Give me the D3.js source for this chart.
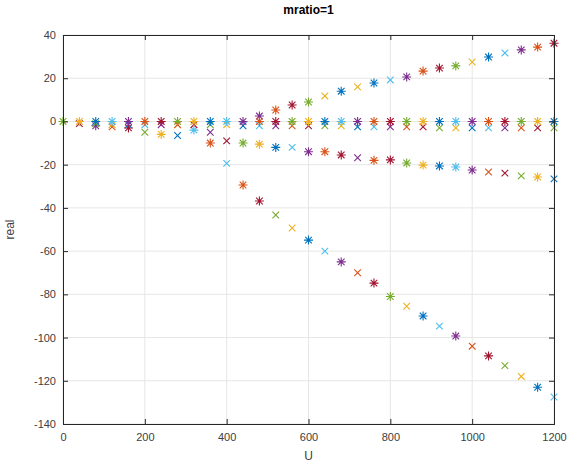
<!DOCTYPE html>
<html><head><meta charset="utf-8">
<script src="https://cdn.jsdelivr.net/npm/d3@7"></script>
<style>body{margin:0;background:#fff;}svg{display:block;font-family:"Liberation Sans",Arial,sans-serif;}</style>
</head><body><svg id="c" width="574" height="466"></svg>
<script>
// U values (x)
const U = [0,40,80,120,160,200,240,280,320,360,400,440,480,520,560,600,640,680,720,760,800,840,880,920,960,1000,1040,1080,1120,1160,1200];
const xTicks = [0,200,400,600,800,1000,1200];
const yTicks = [-140,-120,-100,-80,-60,-40,-20,0,20,40];
const _ = null;
// real parts, aligned with U
const zeroTop   = [0,0,0,0,0,0,0,0,0,0,0,0,0,0,0,0,0,0,0,0,0,0,0,0,0,0,0,0,0,0,0];
const zeroLow   = [_,-1,-1,-1.5,-1.5,-1.5,-1.5,-1.5,-1.5,-1.5,-1.5,-2,-2,-2,-2,-2,-2,-2,-2.5,-2.5,-2.5,-2.5,-2.5,-3,-3,-3,-3,-3,-3,-3,-3];
const row2      = [_,_,-2,-2.5,-3,-5,-6,-6.5,-4,-5,_,_,_,_,_,_,_,_,_,_,_,_,_,_,_,_,_,_,_,_,_];
const middleA   = [_,_,_,_,_,_,_,_,_,-10,-9,-10,-10.5,-12,-12,-14,-14,-15.5,_,_,_,_,_,_,_,_,_,_,_,_,_];
const middleB   = [_,_,_,_,_,_,_,_,_,_,_,_,_,_,_,_,_,_,-16.8,-18,-17.8,-19.2,-20.2,-20.6,-21.1,-22.5,-23.4,-23.9,-25.2,-25.7,-26.6];
const lowerA    = [_,_,_,_,_,_,_,_,_,_,-19.4,_,_,_,_,_,_,_,_,_,_,_,_,_,_,_,_,_,_,_,_];
const lowerB    = [_,_,_,_,_,_,_,_,_,_,_,-29.4,-36.8,-43.3,-49.3,-54.9,-60,-65,-70,-74.8,-81,-85.5,-90,-94.7,-99.3,-104,-108.5,-113,-118,-123,-127.5];
const upperA    = [_,_,_,_,_,_,_,_,_,_,_,_,2.5,5.3,7.6,9,11.8,14,_,_,_,_,_,_,_,_,_,_,_,_,_];
const upperB    = [_,_,_,_,_,_,_,_,_,_,_,_,_,_,_,_,_,_,16,17.8,19.2,20.6,23.3,24.7,25.7,27.5,29.8,31.7,33.1,34.4,36.2];

// style: plotting slot (MATLAB colour order, 12 objects per U step) and marker per drawn point
const style = {
  lowerB:  {slot: 2,  mk: "**xx*x*x**x*x*x*xx*x"},
  upperB:  {slot: 3,  mk: "x*x****x*x***"},
  middleB: {slot: 4,  mk: "x*******xxx*"},
  lowerA:  {slot: 4,  mk: "x"},
  middleA: {slot: 5,  mk: "*x***x***"},
  upperA:  {slot: 6,  mk: "****x*"},
  row2:    {slot: 7,  mk: "*x*x*x*x"},
  zeroLow: {slot: 8,  mk: "x"},
  zeroTop: {slot: 11, mk: "*"}
};
const seriesData = {lowerB, upperB, middleB, lowerA, middleA, upperA, row2, zeroLow, zeroTop};
const colors = ["#0072BD","#D95319","#EDB120","#7E2F8E","#77AC30","#4DBEEE","#A2142F"];

const svg = d3.select("#c");
const m = {l:63, r:20, t:35, b:42};
const W = 574, H = 466;
const x = d3.scaleLinear().domain([0,1200]).range([m.l, W-m.r]);
const y = d3.scaleLinear().domain([-140,40]).range([H-m.b, m.t]);
const ax = "#262626";

// grid
const g = svg.append("g");
g.selectAll(".gx").data(xTicks).join("line").attr("x1",d=>x(d)).attr("x2",d=>x(d)).attr("y1",y(-140)).attr("y2",y(40)).attr("stroke","#e6e6e6").attr("stroke-width",1);
g.selectAll(".gy").data(yTicks).join("line").attr("y1",d=>y(d)).attr("y2",d=>y(d)).attr("x1",x(0)).attr("x2",x(1200)).attr("stroke","#e6e6e6").attr("stroke-width",1);

// markers
function markerPath(t){
  const r = 4.5, a = 3.3;
  if(t==="x") return `M${-a},${-a}L${a},${a}M${-a},${a}L${a},${-a}`;
  return `M${-r},0L${r},0M0,${-r}L0,${r}M${-a},${-a}L${a},${a}M${-a},${a}L${a},${-a}`;
}
const pts = [];
Object.keys(seriesData).forEach(name=>{
  const st = style[name]; let n = 0;
  seriesData[name].forEach((val,i)=>{
    if(val!==null){ pts.push({u:U[i], val, i, slot:st.slot, mk:st.mk[n % st.mk.length]}); n++; }
  });
});
pts.sort((p,q)=> p.i-q.i || p.slot-q.slot);
svg.append("g").selectAll("path").data(pts).join("path")
  .attr("transform",d=>`translate(${x(d.u)},${y(d.val)})`)
  .attr("d",d=>markerPath(d.mk))
  .attr("fill","none")
  .attr("stroke",d=>colors[(d.i*12 + d.slot)%7])
  .attr("stroke-width",1.1);

// axes
const fmt = d=>String(d);
const xa = svg.append("g").attr("transform",`translate(0,${y(-140)})`)
  .call(d3.axisBottom(x).tickValues(xTicks).tickSize(-5).tickPadding(9).tickFormat(fmt));
const xt = svg.append("g").attr("transform",`translate(0,${y(40)})`)
  .call(d3.axisTop(x).tickValues(xTicks).tickSize(-5).tickFormat(""));
const ya = svg.append("g").attr("transform",`translate(${x(0)},0)`)
  .call(d3.axisLeft(y).tickValues(yTicks).tickSize(-5).tickPadding(7).tickFormat(fmt));
const yr = svg.append("g").attr("transform",`translate(${x(1200)},0)`)
  .call(d3.axisRight(y).tickValues(yTicks).tickSize(-5).tickFormat(""));
[xa,xt,ya,yr].forEach(a=>{
  a.select(".domain").attr("stroke",ax).attr("stroke-width",1);
  a.selectAll(".tick line").attr("stroke",ax);
  a.selectAll("text").attr("fill","#404040").style("font-size","11px").style("font-family","Liberation Sans, Arial, sans-serif");
});

svg.append("text").attr("x",(x(0)+x(1200))/2).attr("y",14).attr("text-anchor","middle")
  .style("font-size","12px").style("font-weight","bold").attr("fill","#000").text("mratio=1");
svg.append("text").attr("x",(x(0)+x(1200))/2).attr("y",460).attr("text-anchor","middle")
  .style("font-size","12px").attr("fill","#404040").text("U");
svg.append("text").attr("transform",`translate(14,${(y(-140)+y(40))/2}) rotate(-90)`).attr("text-anchor","middle")
  .style("font-size","12px").attr("fill","#404040").text("real");
</script></body></html>
